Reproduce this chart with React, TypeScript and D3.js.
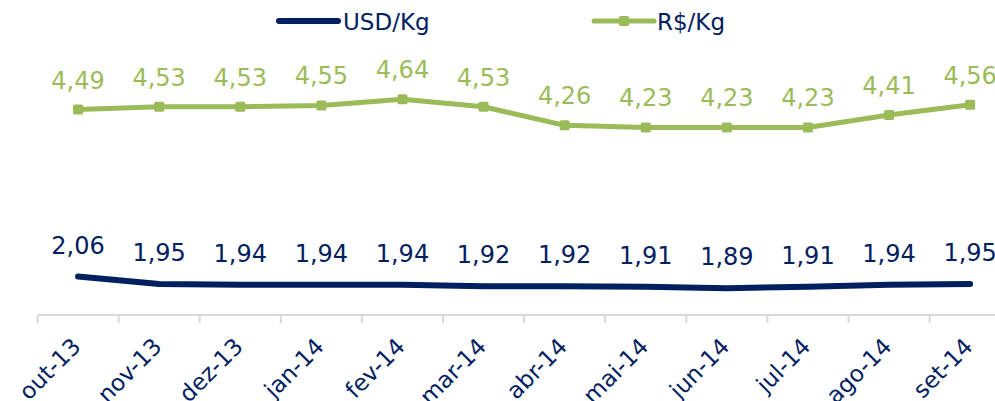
import React, { useRef, useEffect } from 'react';
import * as d3 from 'd3';

const months = ['out-13', 'nov-13', 'dez-13', 'jan-14', 'fev-14', 'mar-14', 'abr-14', 'mai-14', 'jun-14', 'jul-14', 'ago-14', 'set-14'];
const usdKg = [2.06, 1.95, 1.94, 1.94, 1.94, 1.92, 1.92, 1.91, 1.89, 1.91, 1.94, 1.95];
const brlKg = [4.49, 4.53, 4.53, 4.55, 4.64, 4.53, 4.26, 4.23, 4.23, 4.23, 4.41, 4.56];

const NAVY = '#002060';
const GREEN = '#9BBB59';
const FONT = '"DejaVu Sans", Verdana, sans-serif';

const fmt = (v: number) => v.toFixed(2).replace('.', ',');

const App = () => {
  const ref = useRef<SVGSVGElement>(null);

  useEffect(() => {
    const width = 995;
    const height = 401;
    const svg = d3.select(ref.current);
    svg.selectAll('*').remove();

    // 12 categories, plot area runs past the right edge like the original
    const x = d3.scaleBand<string>().domain(months).range([37.5, 37.5 + 81.1 * 12]);
    const cx = (m: string) => (x(m) as number) + x.bandwidth() / 2;
    const y = d3.scaleLinear().domain([1.5, 5]).range([315, 74.5]);

    // axis line + ticks
    const axisY = y(1.5);
    svg.append('line')
      .attr('x1', x.range()[0]).attr('x2', width + 20)
      .attr('y1', axisY).attr('y2', axisY)
      .attr('stroke', '#d9d9d9').attr('stroke-width', 2);
    const tickPos = months.map(m => x(m) as number).concat([x.range()[1]]);
    svg.selectAll('.tick').data(tickPos).enter().append('line')
      .attr('x1', d => d).attr('x2', d => d)
      .attr('y1', axisY).attr('y2', axisY + 8)
      .attr('stroke', '#d9d9d9').attr('stroke-width', 2);

    // category labels
    svg.selectAll('.cat').data(months).enter().append('text')
      .attr('transform', d => `translate(${cx(d) + 4},${348}) rotate(-45)`)
      .attr('text-anchor', 'end')
      .attr('font-family', FONT).attr('font-size', 23)
      .attr('fill', NAVY)
      .text(d => d);

    const line = d3.line<number>()
      .x((_, i) => cx(months[i]))
      .y(d => y(d));

    // USD/Kg
    svg.append('path')
      .attr('d', line(usdKg))
      .attr('fill', 'none').attr('stroke', NAVY)
      .attr('stroke-width', 6).attr('stroke-linecap', 'round').attr('stroke-linejoin', 'round');

    // R$/Kg
    svg.append('path')
      .attr('d', line(brlKg))
      .attr('fill', 'none').attr('stroke', GREEN)
      .attr('stroke-width', 5).attr('stroke-linecap', 'round').attr('stroke-linejoin', 'round');
    svg.selectAll('.mk').data(brlKg).enter().append('rect')
      .attr('x', (_, i) => cx(months[i]) - 5)
      .attr('y', d => y(d) - 5)
      .attr('width', 10).attr('height', 10).attr('rx', 1.5)
      .attr('fill', GREEN);

    // data labels
    svg.selectAll('.lu').data(usdKg).enter().append('text')
      .attr('x', (_, i) => cx(months[i]))
      .attr('y', d => y(d) - 23)
      .attr('text-anchor', 'middle')
      .attr('font-family', FONT).attr('font-size', 24)
      .attr('fill', NAVY)
      .text(d => fmt(d));
    svg.selectAll('.lb').data(brlKg).enter().append('text')
      .attr('x', (_, i) => cx(months[i]))
      .attr('y', d => y(d) - 21)
      .attr('text-anchor', 'middle')
      .attr('font-family', FONT).attr('font-size', 24)
      .attr('fill', GREEN)
      .text(d => fmt(d));

    // legend
    const lg = svg.append('g');
    lg.append('line')
      .attr('x1', 279).attr('x2', 338).attr('y1', 21).attr('y2', 21)
      .attr('stroke', NAVY).attr('stroke-width', 6).attr('stroke-linecap', 'round');
    lg.append('text')
      .attr('x', 343).attr('y', 30)
      .attr('font-family', FONT).attr('font-size', 23).attr('fill', NAVY)
      .text('USD/Kg');
    lg.append('line')
      .attr('x1', 594).attr('x2', 654).attr('y1', 21).attr('y2', 21)
      .attr('stroke', GREEN).attr('stroke-width', 5).attr('stroke-linecap', 'round');
    lg.append('rect')
      .attr('x', 619).attr('y', 16).attr('width', 10).attr('height', 10).attr('rx', 1.5)
      .attr('fill', GREEN);
    lg.append('text')
      .attr('x', 657).attr('y', 30)
      .attr('font-family', FONT).attr('font-size', 23).attr('fill', NAVY)
      .text('R$/Kg');

    svg.attr('width', width).attr('height', height);
  }, []);

  return (
    <div style={{ position: 'absolute', left: 0, top: 0, width: 995, height: 401, overflow: 'hidden', background: '#fff' }}>
      <svg ref={ref} width={995} height={401} />
    </div>
  );
};

export default App;
